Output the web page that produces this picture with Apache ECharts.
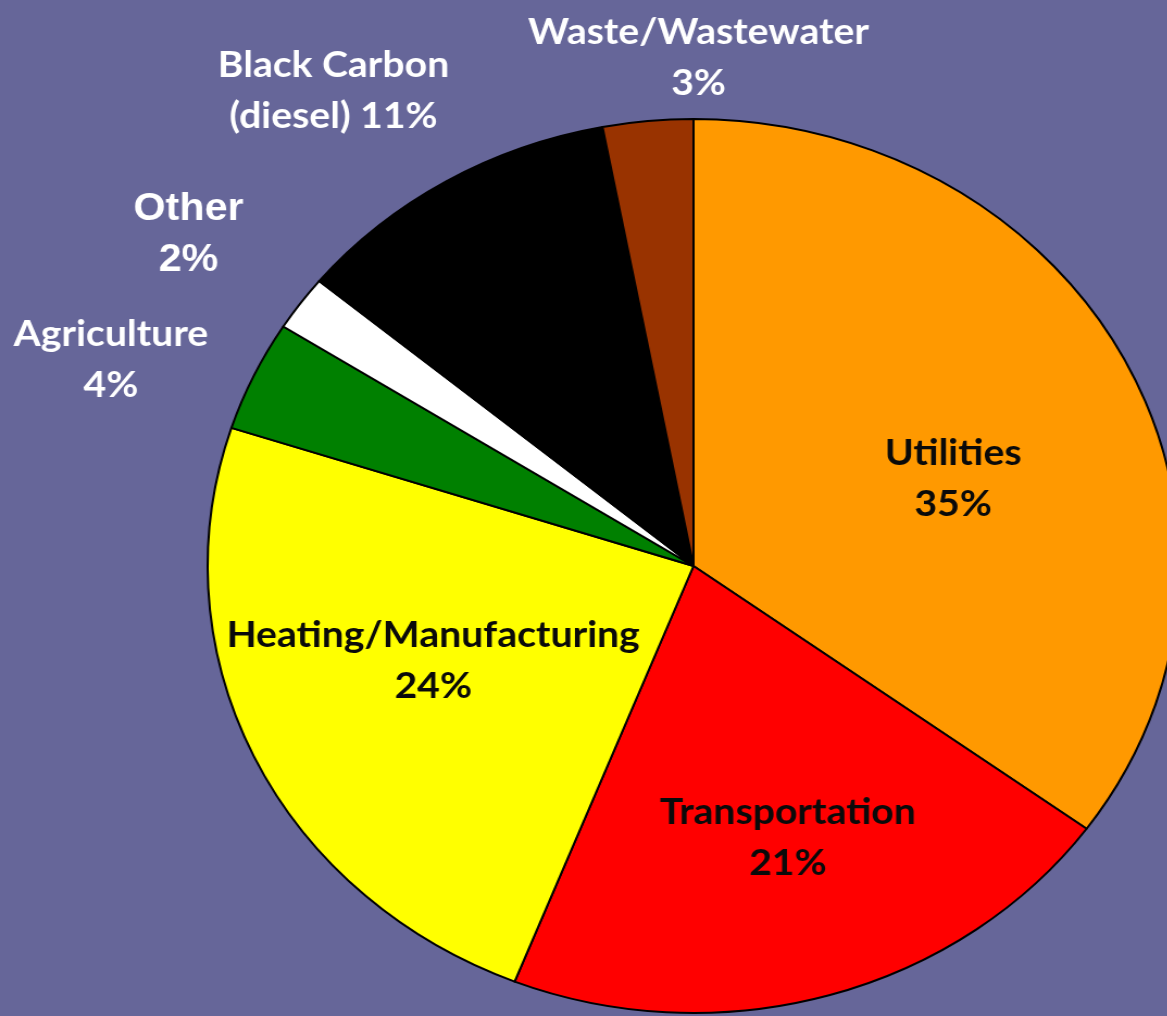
<!DOCTYPE html>
<html>
<head>
<meta charset="utf-8">
<title>Emissions by sector</title>
<script src="https://cdn.jsdelivr.net/npm/echarts@6/dist/echarts.min.js"></script>
<style>
html, body { margin:0; padding:0; background:#666699; overflow:hidden; }
/* the original pie is a bit wider than tall, so stretch the whole chart sideways */
#main { width:1074px; height:1016px; transform:scaleX(1.087); transform-origin:0 0; }
</style>
</head>
<body>
<div id="main"></div>
<script type="text/javascript">

var sectors = ['Utilities', 'Transportation', 'Heating/Manufacturing', 'Agriculture', 'Other', 'Black Carbon (diesel)', 'Waste/Wastewater'];
var shares = [35, 21, 24, 4, 2, 11, 3];
var sliceColors = ['#FF9900', '#FF0000', '#FFFF00', '#008000', '#FFFFFF', '#000000', '#993300'];
var insideLabel = [true, true, true, false, false, false, false];

// small hand offsets, the source slide had its labels dragged around a bit
var nudge = {
    'Utilities': [0, 35],
    'Transportation': [12, 15],
    'Heating/Manufacturing': [3, -19],
    'Agriculture': [-13, 40],
    'Other': [3, 9],
    'Black Carbon (diesel)': [-37, 22],
    'Waste/Wastewater': [59, 67]
};

var center = [638, 566];

function labelText(p) {
    if (p.name == 'Black Carbon (diesel)')
        return 'Black Carbon\n(diesel) ' + p.value + '%';
    return p.name + '\n' + p.value + '%';
}

function moveLabel(params) {
    var d = nudge[sectors[params.dataIndex]];
    return { dx: d[0], dy: d[1] };
}

var slices = [], inner = [], outer = [];
for (var i = 0; i < sectors.length; i++) {
    slices.push({ name: sectors[i], value: shares[i], itemStyle: { color: sliceColors[i] } });
    inner.push({ name: sectors[i], value: shares[i], label: { show: insideLabel[i] } });
    var lab = { show: !insideLabel[i] };
    if (sectors[i] == 'Other') {
        // this one was typed in Arial on the slide
        lab.fontFamily = '"Liberation Sans", Arial, sans-serif';
        lab.fontSize = 38;
    }
    outer.push({ name: sectors[i], value: shares[i], label: lab });
}

var myChart = echarts.init(document.getElementById('main'));
var option = {
    backgroundColor: '#666699',
    animation: false,
    series: [
        {
            type: 'pie',
            center: center,
            radius: 447,
            startAngle: 90,
            clockwise: true,
            silent: true,
            avoidLabelOverlap: false,
            data: slices,
            itemStyle: { borderColor: '#000', borderWidth: 2 },
            label: { show: false },
            labelLine: { show: false }
        },
        {
            // transparent ring, only carries the labels that sit inside the pie
            type: 'pie',
            center: center,
            radius: [0, 530],
            startAngle: 90,
            silent: true,
            avoidLabelOverlap: false,
            data: inner,
            itemStyle: { color: 'rgba(0,0,0,0)', borderWidth: 0 },
            label: {
                position: 'inside',
                formatter: labelText,
                color: '#0a0a0a',
                fontFamily: 'Lato, sans-serif',
                fontWeight: 'bold',
                fontSize: 36,
                lineHeight: 51,
                align: 'center'
            },
            labelLine: { show: false },
            labelLayout: moveLabel,
            z: 3
        },
        {
            // ring outside the pie for the small slices' labels
            type: 'pie',
            center: center,
            radius: [460, 690],
            startAngle: 90,
            silent: true,
            avoidLabelOverlap: false,
            data: outer,
            itemStyle: { color: 'rgba(0,0,0,0)', borderWidth: 0 },
            label: {
                position: 'inside',
                formatter: labelText,
                color: '#ffffff',
                fontFamily: 'Lato, sans-serif',
                fontWeight: 'bold',
                fontSize: 36,
                lineHeight: 51,
                align: 'center'
            },
            labelLine: { show: false },
            labelLayout: moveLabel,
            z: 3
        }
    ]
};
myChart.setOption(option);
</script>
</body>
</html>
